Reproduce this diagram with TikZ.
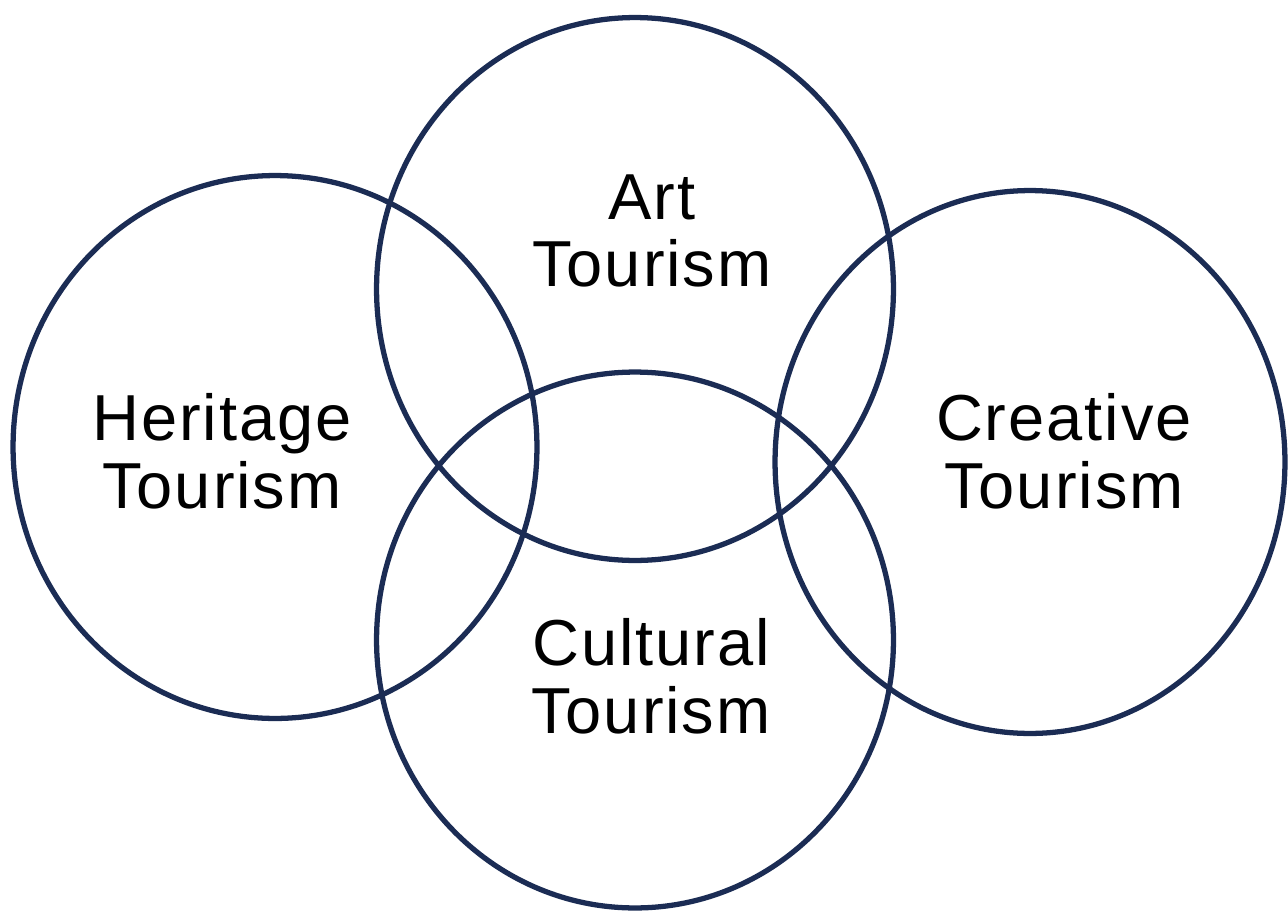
\documentclass[tikz,border=0pt]{standalone}
\usepackage{fontspec}
\setmainfont{Liberation Sans}[LetterSpace=3]
\usepackage{tikz}
\usetikzlibrary{
    calc,
    positioning
}
\definecolor{ringblue}{RGB}{27,44,84}
\tikzset{
    ring/.style={draw=ringblue,line width=3pt},
    tourtext/.style={align=center,inner sep=0pt,font=\fontsize{37}{38.5}\selectfont}
}

\begin{document}
\begin{tikzpicture}[x=0.02cm,y=-0.02cm,thick]
%\draw [help lines](0,0) grid (1288,916);
\useasboundingbox (0,0) rectangle (1288,916);
\coordinate (H) at (275,447);
\coordinate (A) at (635,289);
\coordinate (C) at (1030,462);
\coordinate (U) at (635,640);
\draw [ring] (H) ellipse [x radius=5.24cm, y radius=5.43cm];
\draw [ring] (A) ellipse [x radius=5.17cm, y radius=5.43cm];
\draw [ring] (C) ellipse [x radius=5.10cm, y radius=5.43cm];
\draw [ring] (U) ellipse [x radius=5.17cm, y radius=5.36cm];
\node [tourtext] (art) at (652,231) {Art\\Tourism};
\node [tourtext] (heritage) at (222,451) {Heritage\\Tourism};
\node [tourtext] (creative) at (1064,451) {Creative\\Tourism};
\node [tourtext] (cultural) at (651,676) {Cultural\\Tourism};
\end{tikzpicture}
\end{document}
